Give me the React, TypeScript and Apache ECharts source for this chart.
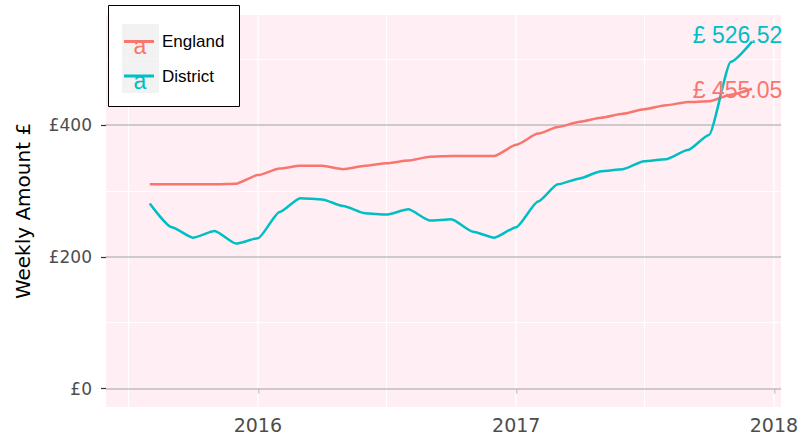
import React, { useEffect, useRef } from "react";
import * as echarts from "echarts";

const months = [
  "2015-08-01", "2015-09-01", "2015-10-01", "2015-11-01", "2015-12-01",
  "2016-01-01", "2016-02-01", "2016-03-01", "2016-04-01", "2016-05-01", "2016-06-01",
  "2016-07-01", "2016-08-01", "2016-09-01", "2016-10-01", "2016-11-01", "2016-12-01",
  "2017-01-01", "2017-02-01", "2017-03-01", "2017-04-01", "2017-05-01", "2017-06-01",
  "2017-07-01", "2017-08-01", "2017-09-01", "2017-10-01", "2017-11-01", "2017-12-01",
];

const england = [
  310, 310, 310, 310, 311,
  324, 334, 338, 338, 333, 338,
  342, 346, 352, 353, 353, 353,
  370, 387, 397, 405, 411, 417,
  424, 430, 435, 436, 446, 455.05,
];

const district = [
  281, 245, 229, 239, 220,
  228, 268, 289, 287, 277, 266,
  264, 272, 255, 257, 238, 229,
  245, 284, 310, 319, 330, 333,
  345, 348, 362, 385, 496, 526.52,
];

const yMajorTicks = [0, 200, 400];
const yMinorTicks = [100, 300, 500];
const xMajorTicks = ["2016-01-01", "2017-01-01", "2018-01-01"];
const xMinorTicks = ["2015-07-01", "2016-07-01", "2017-07-01"];

const ENGLAND_COLOR = "#F8766D";
const DISTRICT_COLOR = "#00BFC4";

const ts = (s: string) => new Date(s + "T00:00:00Z").getTime();

export default function App() {
  const ref = useRef<HTMLDivElement>(null);

  useEffect(() => {
    if (!ref.current) return;
    const chart = echarts.init(ref.current, undefined, { renderer: "svg" });

    const engData = months.map((m, i) => [ts(m), england[i]]);
    const disData = months.map((m, i) => [ts(m), district[i]]);
    const last = months.length - 1;

    const gridLines = [
      ...yMinorTicks.map((v) => ({ yAxis: v, lineStyle: { color: "#FFFFFF", width: 1, type: "solid" } })),
      ...xMinorTicks.map((d) => ({ xAxis: ts(d), lineStyle: { color: "#FFFFFF", width: 1, type: "solid" } })),
      ...xMajorTicks.map((d) => ({ xAxis: ts(d), lineStyle: { color: "#FFFFFF", width: 1.5, type: "solid" } })),
      ...yMajorTicks.map((v) => ({ yAxis: v, lineStyle: { color: "#BEBEBE", width: 1.5, type: "solid" } })),
    ];

    const option: any = {
      animation: false,
      grid: {
        left: 106,
        right: 26,
        top: 15,
        bottom: 28,
        show: true,
        backgroundColor: "#FFEEF3",
        borderWidth: 0,
      },
      legend: {
        orient: "vertical",
        left: 124,
        top: 31.5,
        padding: 0,
        itemWidth: 30,
        itemHeight: 3,
        itemGap: 14.5,
        icon: "rect",
        z: 6,
        textStyle: {
          fontFamily: "Liberation Sans",
          fontSize: 17,
          color: "#000000",
          lineHeight: 20,
          padding: [0, 0, 0, 3],
        },
        data: ["England", "District"],
      },
      xAxis: {
        type: "value",
        min: ts("2015-05-31"),
        max: ts("2018-01-11"),
        axisLine: { show: false },
        axisTick: {
          show: true,
          customValues: xMajorTicks.map(ts),
          length: 5,
          lineStyle: { color: "#333333", width: 1.2 },
        },
        axisLabel: {
          customValues: xMajorTicks.map(ts),
          formatter: (v: number) => String(new Date(v).getUTCFullYear()),
          fontFamily: "DejaVu Sans",
          fontSize: 19,
          color: "#4D4D4D",
          margin: 8,
        },
        splitLine: { show: false },
      },
      yAxis: {
        type: "value",
        min: -28,
        max: 567,
        name: "Weekly Amount £",
        nameLocation: "middle",
        nameRotate: 90,
        nameGap: 73,
        nameTextStyle: { fontFamily: "DejaVu Sans", fontSize: 20, color: "#000000" },
        axisLine: { show: false },
        axisTick: {
          show: true,
          customValues: yMajorTicks,
          length: 5,
          lineStyle: { color: "#333333", width: 1.2 },
        },
        axisLabel: {
          customValues: yMajorTicks,
          formatter: (v: number) => "£" + v,
          fontFamily: "DejaVu Sans",
          fontSize: 17,
          color: "#4D4D4D",
          margin: 14,
        },
        splitLine: { show: false },
      },
      graphic: [
        {
          type: "rect",
          z: 3,
          shape: { x: 108.5, y: 5.5, width: 131, height: 101 },
          style: { fill: "#FFFFFF", stroke: "#000000", lineWidth: 1 },
        },
        {
          type: "rect",
          z: 4,
          shape: { x: 122, y: 24, width: 37, height: 34.5 },
          style: { fill: "#F2F2F2" },
        },
        {
          type: "rect",
          z: 4,
          shape: { x: 122, y: 58.5, width: 37, height: 34.5 },
          style: { fill: "#F2F2F2" },
        },
        {
          type: "text",
          z: 5,
          x: 140,
          y: 46,
          style: {
            text: "a",
            fill: ENGLAND_COLOR,
            fontFamily: "Liberation Sans",
            fontSize: 23,
            align: "center",
            verticalAlign: "middle",
          },
        },
        {
          type: "text",
          z: 5,
          x: 140,
          y: 80.5,
          style: {
            text: "a",
            fill: DISTRICT_COLOR,
            fontFamily: "Liberation Sans",
            fontSize: 23,
            align: "center",
            verticalAlign: "middle",
          },
        },
      ],
      series: [
        {
          name: "England",
          type: "line",
          data: engData,
          color: ENGLAND_COLOR,
          showSymbol: false,
          smooth: 0.2,
          smoothMonotone: "x",
          lineStyle: { width: 2.5, color: ENGLAND_COLOR },
          z: 2,
          markLine: {
            z: 1,
            silent: true,
            symbol: ["none", "none"],
            label: { show: false },
            emphasis: { disabled: true },
            data: gridLines,
          },
          markPoint: {
            symbol: "circle",
            symbolSize: 1,
            itemStyle: { color: "rgba(0,0,0,0)" },
            label: {
              show: true,
              position: "inside",
              offset: [-14.5, 1],
              formatter: () => "£ " + england[last].toFixed(2),
              fontFamily: "Liberation Sans",
              fontSize: 23,
              color: ENGLAND_COLOR,
            },
            data: [{ coord: engData[last] }],
          },
        },
        {
          name: "District",
          type: "line",
          data: disData,
          color: DISTRICT_COLOR,
          showSymbol: false,
          smooth: 0.2,
          smoothMonotone: "x",
          lineStyle: { width: 2.5, color: DISTRICT_COLOR },
          z: 2,
          markPoint: {
            symbol: "circle",
            symbolSize: 1,
            itemStyle: { color: "rgba(0,0,0,0)" },
            label: {
              show: true,
              position: "inside",
              offset: [-14.5, -7],
              formatter: () => "£ " + district[last].toFixed(2),
              fontFamily: "Liberation Sans",
              fontSize: 23,
              color: DISTRICT_COLOR,
            },
            data: [{ coord: disData[last] }],
          },
        },
      ],
    };

    chart.setOption(option);
    return () => chart.dispose();
  }, []);

  return (
    <div
      ref={ref}
      style={{ position: "absolute", left: 0, top: 0, width: 807, height: 435 }}
    />
  );
}
